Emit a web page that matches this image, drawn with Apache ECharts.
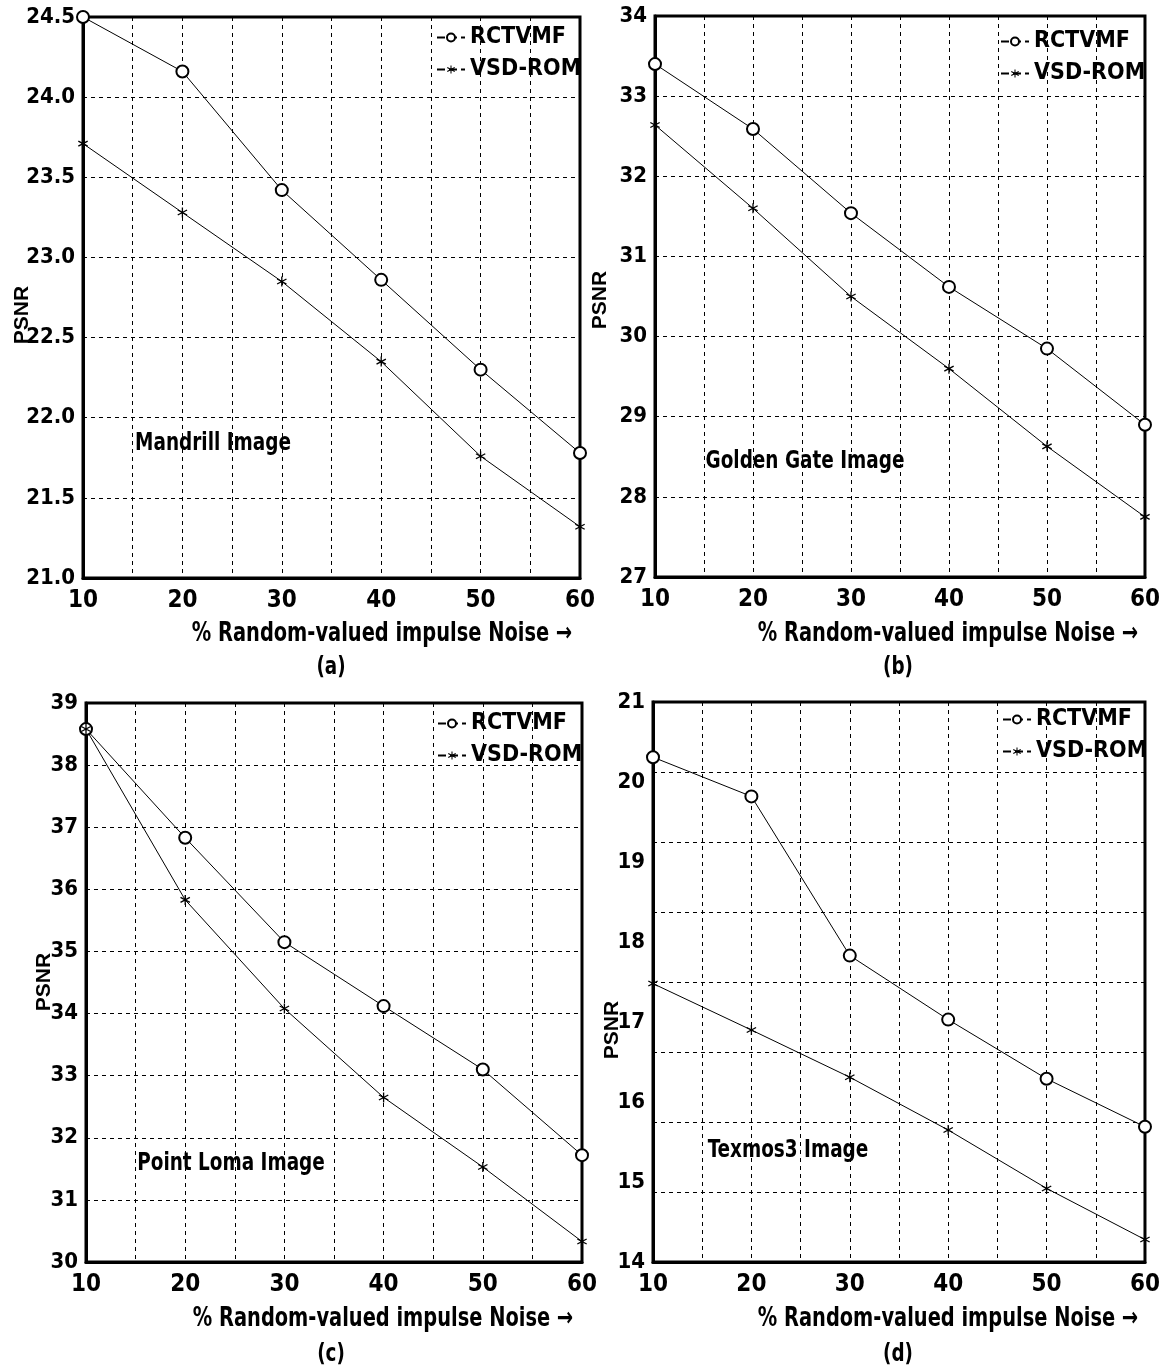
<!DOCTYPE html>
<html>
<head>
<meta charset="utf-8">
<script src="https://cdn.jsdelivr.net/npm/echarts@6/dist/echarts.min.js"></script>
<style>
html,body{margin:0;padding:0;background:#fff;}
#main{width:1163px;height:1372px;}
</style>
</head>
<body>
<div id="main"></div>
<script>
// data
var noise = [10, 20, 30, 40, 50, 60];
var names = ['RCTVMF', 'VSD-ROM'];

var rctvmfA = [24.5, 24.16, 23.42, 22.86, 22.30, 21.78];
var vsdromA = [23.71, 23.28, 22.85, 22.35, 21.76, 21.32];

var rctvmfB = [33.40, 32.59, 31.54, 30.62, 29.85, 28.90];
var vsdromB = [32.64, 31.60, 30.50, 29.60, 28.63, 27.75];

var rctvmfC = [38.58, 36.83, 35.15, 34.12, 33.10, 31.72];
var vsdromC = [38.58, 35.83, 34.08, 32.65, 31.53, 30.33];

var rctvmfD = [20.31, 19.82, 17.83, 17.03, 16.29, 15.69];
var vsdromD = [17.48, 16.90, 16.31, 15.65, 14.92, 14.28];

var FONT = '"DejaVu Sans Condensed", "Liberation Sans Narrow", sans-serif';
var FONT2 = '"Liberation Sans", Arial, sans-serif';

// asterisk marker made of three thin bars
var star = 'path://M-1.2,-10L1.2,-10L1.2,10L-1.2,10Z' +
  'M-9.26,-3.96L-8.06,-6.04L9.26,3.96L8.06,6.04Z' +
  'M8.06,-6.04L9.26,-3.96L-8.06,6.04L-9.26,3.96Z';

var grids = [
  {left: 83, top: 17, width: 497, height: 561},
  {left: 655, top: 16, width: 493, height: 561},
  {left: 86, top: 703, width: 496, height: 559},
  {left: 653, top: 702, width: 495, height: 560}
];
var yRanges = [
  {min: 21, max: 24.5, interval: 0.5, dec: 1},
  {min: 27, max: 34, interval: 1, dec: 0},
  {min: 30, max: 39, interval: 1, dec: 0},
  {min: 14, max: 21, interval: 1, dec: 0}
];
var sets = [[rctvmfA, vsdromA], [rctvmfB, vsdromB], [rctvmfC, vsdromC], [rctvmfD, vsdromD]];

function pairs(arr){
  return noise.map(function(x, i){ return [x, arr[i]]; });
}

var dashed = {show: true, lineStyle: {color: '#000', width: 1, type: [4, 4]}};

var xAxes = [], yAxes = [], series = [], legends = [];
grids.forEach(function(g, i){
  g.show = true;
  g.borderColor = '#000';
  g.borderWidth = 3;
  g.backgroundColor = '#fff';
  xAxes.push({
    type: 'value', gridIndex: i, min: 10, max: 60, interval: 5,
    axisLine: {show: true, lineStyle: {color: '#000', width: 3}},
    axisTick: {show: false},
    splitLine: dashed,
    axisLabel: {
      margin: 11, color: '#000', fontFamily: FONT, fontWeight: 'bold', fontSize: 24,
      formatter: function(v){ return v % 10 === 0 ? String(v) : ''; }
    }
  });
  var r = yRanges[i];
  yAxes.push({
    type: 'value', gridIndex: i, min: r.min, max: r.max, interval: r.interval,
    axisLine: {show: true, lineStyle: {color: '#000', width: 3}},
    axisTick: {show: false},
    splitLine: i === 3 ? {show: false} : dashed,
    axisLabel: {
      margin: 8, color: '#000', fontFamily: FONT, fontWeight: 'bold', fontSize: 22,
      formatter: function(v){ return v.toFixed(r.dec); }
    }
  });
  series.push({
    name: 'RCTVMF', type: 'line', xAxisIndex: i, yAxisIndex: i,
    data: pairs(sets[i][0]),
    symbol: 'emptyCircle', symbolSize: 12,
    lineStyle: {color: '#000', width: 1},
    itemStyle: {color: '#000', borderColor: '#000', borderWidth: 1},
    animation: false
  });
  series.push({
    name: 'VSD-ROM', type: 'line', xAxisIndex: i, yAxisIndex: i,
    data: pairs(sets[i][1]),
    symbol: star, symbolSize: 10,
    lineStyle: {color: '#000', width: 1},
    itemStyle: {color: '#000'},
    animation: false
  });
});

// panel (d): grid lines in eight steps, labels in seven
yAxes.push({
  type: 'value', gridIndex: 3, min: 0, max: 8, interval: 1, position: 'right',
  axisLine: {show: false}, axisTick: {show: false}, axisLabel: {show: false},
  splitLine: dashed
});

var legendPos = [[436, 26], [1000, 30], [437, 712], [1002, 708]];
legendPos.forEach(function(p){
  legends.push({
    orient: 'vertical', left: p[0], top: p[1], padding: 0,
    itemWidth: 28, itemHeight: 10, itemGap: 9,
    data: names,
    lineStyle: {type: 'dashed'},
    textStyle: {color: '#000', fontFamily: FONT, fontWeight: 'bold', fontSize: 23}
  });
});

function txt(x, y, s, size, opts){
  opts = opts || {};
  return {
    type: 'text', x: x, y: y, rotation: opts.rot || 0, scaleX: opts.sx || 1,
    style: {text: s, fill: '#000', font: 'bold ' + size + 'px ' + (opts.font || FONT),
      textAlign: 'center', textVerticalAlign: 'middle'}
  };
}

var xName = '% Random-valued impulse Noise \u2192';
var graphics = [
  txt(382, 634, xName, 26, {sx: 0.83}),
  txt(948, 634, xName, 26, {sx: 0.83}),
  txt(383, 1319, xName, 26, {sx: 0.83}),
  txt(948, 1319, xName, 26, {sx: 0.83}),
  txt(331, 668, '(a)', 24, {sx: 0.85}),
  txt(898, 668, '(b)', 24, {sx: 0.85}),
  txt(331, 1355, '(c)', 24, {sx: 0.85}),
  txt(898, 1355, '(d)', 24, {sx: 0.85}),
  txt(22, 315, 'PSNR', 21, {rot: Math.PI / 2, font: FONT2}),
  txt(600, 300, 'PSNR', 21, {rot: Math.PI / 2, font: FONT2}),
  txt(44, 982, 'PSNR', 21, {rot: Math.PI / 2, font: FONT2}),
  txt(612, 1030, 'PSNR', 21, {rot: Math.PI / 2, font: FONT2}),
  txt(213, 443, 'Mandrill Image', 25, {sx: 0.82}),
  txt(805, 461, 'Golden Gate Image', 25, {sx: 0.82}),
  txt(231, 1163, 'Point Loma Image', 25, {sx: 0.82}),
  txt(788, 1150, 'Texmos3 Image', 25, {sx: 0.82})
];

var chart = echarts.init(document.getElementById('main'));
chart.setOption({
  backgroundColor: '#fff',
  animation: false,
  grid: grids,
  xAxis: xAxes,
  yAxis: yAxes,
  legend: legends,
  series: series,
  graphic: graphics
});
</script>
</body>
</html>
